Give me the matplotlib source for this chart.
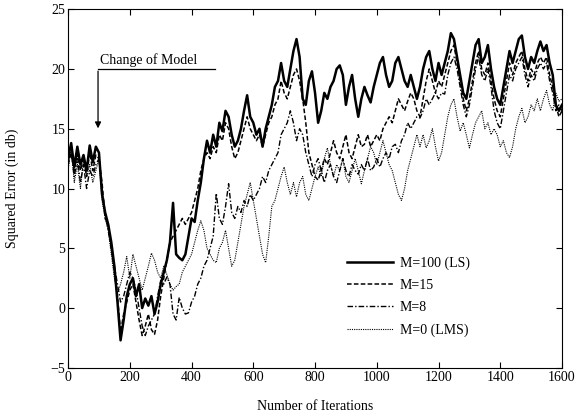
import numpy as np
import matplotlib
matplotlib.use('Agg')
import matplotlib.pyplot as plt

plt.rcParams['font.family'] = ['Liberation Serif', 'DejaVu Serif']

# iterations sampled every 10 steps
iterations = np.arange(0, 1601, 10)

# M=100 (LS)
err_ls = [
    12.5, 13.8, 11.8, 13.5, 12.0, 12.8, 11.5, 13.6, 12.2, 13.5,
    13.0, 9.5, 8.0, 7.0, 5.5, 3.5, 0.5, -2.7, -1.0, 1.0,
    2.0, 2.5, 1.0, 2.0, 0.0, 0.8, 0.2, 1.0, -0.5, 0.5,
    2.0, 3.0, 4.0, 5.5, 8.8, 4.5, 4.2, 4.0, 4.5, 6.0,
    7.5, 7.2, 9.0, 10.5, 12.5, 14.0, 13.0, 14.5, 13.5, 15.5,
    14.8, 16.5, 16.0, 14.5, 13.5, 14.0, 15.0, 16.5, 17.8, 16.0,
    15.5, 14.5, 15.0, 13.5, 15.0, 16.0, 17.0, 18.5, 19.0, 20.5,
    19.0, 18.5, 20.0, 21.5, 22.5, 21.0, 17.5, 17.0, 19.0, 19.8,
    18.0, 15.5, 16.5, 18.0, 17.5, 18.5, 19.0, 20.0, 20.3, 19.5,
    17.0, 18.5, 19.5, 17.5, 16.0, 17.5, 18.5, 17.8, 17.2, 18.5,
    19.5, 20.5, 21.0, 19.5, 18.5, 19.0, 20.5, 21.0, 20.0, 19.0,
    18.5, 19.5, 18.5, 17.5, 18.5, 20.0, 21.0, 21.5, 20.0, 19.0,
    20.5, 19.5, 20.5, 21.5, 23.0, 22.5, 21.0, 19.5, 18.0, 17.5,
    19.0, 20.5, 22.0, 22.5, 20.5, 21.0, 22.0, 20.0, 18.5, 17.5,
    17.0, 18.5, 20.0, 21.5, 20.5, 21.5, 22.5, 22.8, 21.0, 20.0,
    21.0, 20.5, 21.5, 22.3, 21.5, 22.0, 20.5, 19.5, 17.0, 16.5,
    17.0]

# M=15
err_m15 = [
    12.0, 13.0, 11.5, 13.0, 11.5, 12.5, 11.0, 13.0, 11.5, 12.8,
    12.5, 10.5, 7.5, 7.0, 5.0, 3.0, 1.0, -2.0, -0.5, 0.5,
    1.5, 2.0, 0.5, -1.0, -2.3, -1.5, -0.5, -1.8, -2.2, -1.0,
    1.0, 2.5, 4.0, 5.5, 6.0, 6.5, 7.0, 7.5, 7.0, 7.5,
    8.0, 9.0, 10.0, 11.5, 12.5, 13.0, 12.5, 13.5, 13.0, 14.5,
    14.0, 15.5, 15.0, 13.5, 12.5, 13.0, 14.0, 15.0, 16.0, 15.0,
    14.5, 14.0, 14.5, 13.5, 14.5, 15.5, 16.0, 17.0, 17.5, 19.0,
    18.0, 17.5, 18.5, 19.5, 20.0, 19.0, 17.5, 15.5, 13.0, 12.0,
    11.0, 10.7, 11.5, 12.5, 12.0, 13.0, 14.0, 13.0, 12.5, 13.5,
    14.5, 13.0, 12.5, 13.5, 14.5, 13.5, 13.7, 14.5, 13.5, 14.0,
    14.5, 14.0, 15.0, 15.5, 16.0, 15.5, 16.5, 17.5, 17.0, 16.5,
    17.3, 18.0, 17.5, 16.5, 16.0, 17.5, 19.0, 20.0, 19.0, 18.0,
    19.0, 18.5, 19.5, 20.5, 21.5, 22.0, 20.5, 19.0, 17.5, 16.5,
    17.5, 19.0, 20.5, 21.5, 20.0, 19.5, 20.5, 19.0, 17.5, 16.5,
    16.0, 17.5, 19.0, 20.5, 19.5, 20.5, 21.0, 21.5, 20.0, 19.0,
    20.0, 19.5, 20.5, 21.0, 20.5, 21.0, 19.5, 18.5, 17.0, 16.0,
    16.5]

# M=8
err_m8 = [
    12.5, 13.0, 11.0, 12.5, 10.5, 12.0, 10.0, 11.5, 11.0, 12.0,
    12.5, 10.0, 8.0, 6.5, 5.0, 3.5, 2.0, 0.5, 1.0, 2.0,
    3.0, 2.5, 1.5, 0.0, -1.5, -2.3, -1.5, -1.0, -0.5, 1.0,
    2.3, 2.0, 2.6, 2.0, -0.5, -1.0, 0.9, 0.0, -0.5, -0.4,
    0.5, 1.0, 2.0, 2.5, 3.5, 4.0, 5.0, 6.0, 9.6, 7.5,
    7.0, 8.5, 10.4, 8.0, 7.5, 8.5, 8.0, 9.0, 8.5, 9.5,
    9.0, 9.5, 10.0, 11.0, 10.5, 11.5, 12.0, 12.5, 13.0, 14.5,
    15.0, 15.5, 16.5, 15.5, 14.0, 15.0, 14.5, 13.0, 12.0, 11.0,
    12.0, 12.5, 11.5, 10.5, 11.5, 12.0, 11.0, 10.5, 11.5, 12.5,
    11.5, 11.0, 12.0, 11.5, 11.2, 12.0, 11.5, 12.5, 11.5, 11.8,
    12.5, 11.8, 12.5, 13.0, 12.5, 13.5, 13.7, 13.0, 14.0, 14.5,
    15.5, 15.0, 15.5, 16.0, 15.9, 16.5, 17.5, 17.0, 17.5, 18.0,
    17.5, 18.0, 17.9, 19.5, 20.5, 21.0, 20.0, 18.5, 17.0, 16.0,
    17.0, 18.5, 20.0, 21.0, 19.5, 19.0, 20.0, 18.5, 16.5, 15.5,
    15.0, 16.5, 18.0, 19.5, 19.0, 20.0, 20.5, 21.0, 19.5, 18.5,
    19.5, 19.0, 20.0, 20.5, 20.0, 20.5, 19.0, 18.0, 16.5, 17.0,
    16.5]

# M=0 (LMS)
err_lms = [
    11.5, 13.5, 10.5, 12.0, 10.0, 12.5, 11.0, 12.0, 10.5, 11.5,
    12.5, 9.0, 7.5, 6.5, 4.5, 2.5, 1.2, 2.0, 3.0, 4.3,
    2.5, 4.5, 3.5, 2.5, 1.5, 2.5, 3.5, 4.6, 4.0, 3.0,
    2.5, 3.5, 2.8, 2.0, 1.5, 1.8, 2.0, 3.0, 3.5, 4.0,
    4.5, 5.5, 6.5, 7.3, 6.5, 5.0, 4.5, 4.0, 3.8, 5.0,
    5.5, 6.5, 5.0, 3.5, 4.0, 5.5, 7.0, 8.5, 9.5, 10.5,
    9.0, 7.5, 6.0, 4.5, 3.8, 6.0, 8.5, 9.0, 10.0, 11.0,
    11.8, 10.5, 9.5, 10.5, 9.3, 10.5, 11.0, 9.5, 9.0, 10.0,
    11.0, 11.8, 11.0, 12.5, 13.4, 12.0, 11.0, 12.0, 11.5, 12.5,
    11.0, 10.5, 11.5, 12.5, 11.5, 10.4, 11.5, 12.5, 13.5, 13.0,
    12.0, 13.0, 14.0, 13.0, 12.0, 11.5, 10.5, 9.5, 9.0, 10.0,
    11.5, 12.5, 13.5, 14.5, 13.5, 14.5, 13.4, 14.0, 15.0, 13.5,
    12.3, 13.0, 14.5, 16.0, 17.0, 17.5, 16.0, 14.8, 15.5, 14.5,
    13.4, 14.5, 15.5, 16.0, 16.5, 15.0, 15.5, 14.5, 15.0, 14.5,
    13.5, 14.0, 13.0, 12.6, 13.5, 15.0, 16.0, 16.7, 15.5, 16.0,
    17.0, 16.5, 17.5, 16.5, 17.5, 18.2, 17.0, 16.5, 18.0, 17.3,
    17.5]

labels = ['M=100 (LS)', 'M=15', 'M=8', 'M=0 (LMS)']

fig = plt.figure(figsize=(5.77, 4.18), dpi=100)
ax = fig.add_axes([0.118, 0.12, 0.856, 0.858])

ax.plot(iterations, err_ls, color='black', lw=1.8, label=labels[0])
ax.plot(iterations, err_m15, color='black', lw=1.1, ls=(0, (3, 1.5)), label=labels[1])
ax.plot(iterations, err_m8, color='black', lw=1.0, ls=(0, (4, 1.5, 1, 1.5)), label=labels[2])
ax.plot(iterations, err_lms, color='black', lw=0.8, ls=(0, (1, 1)), label=labels[3])

ax.set_xlim(0, 1600)
ax.set_ylim(-5, 25)
ax.set_xticks(np.arange(0, 1601, 200))
ax.set_yticks(np.arange(-5, 26, 5))
ax.tick_params(direction='in', top=True, right=True, labelsize=10, length=4, pad=2)

ax.set_xlabel('Number of Iterations', fontsize=10, labelpad=12)
ax.set_ylabel('Squared Error (in db)', fontsize=10, labelpad=23)

# change of model marker
ax.plot([97, 476], [20, 20], color='black', lw=0.9)
ax.annotate('', xy=(97, 14.8), xytext=(97, 20.05),
            arrowprops=dict(arrowstyle='-|>', color='black', lw=0.9, mutation_scale=9))
ax.text(105, 20.2, 'Change of Model', fontsize=10, ha='left', va='bottom')

ax.legend(loc='upper left', bbox_to_anchor=(0.565, 0.31), frameon=False,
          fontsize=10, handlelength=3.3, handletextpad=0.5, labelspacing=0.65,
          borderpad=0, borderaxespad=0)

fig.savefig('out.png', dpi=100)
